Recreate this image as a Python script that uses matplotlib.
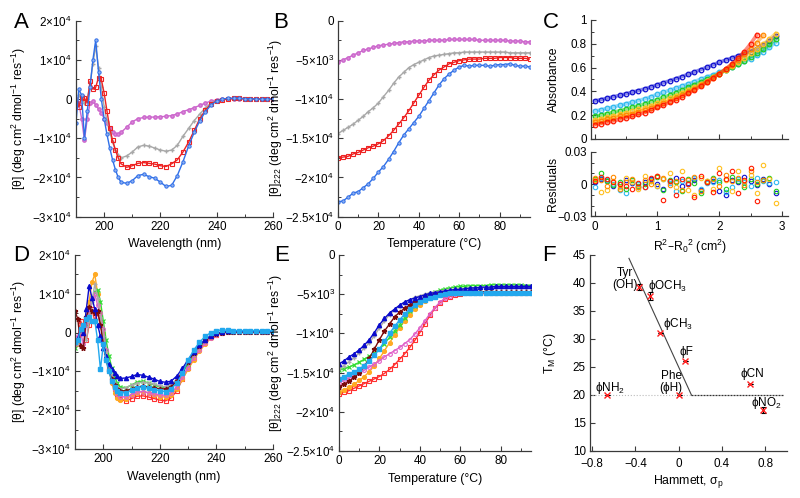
import matplotlib
matplotlib.use('Agg')
import matplotlib.pyplot as plt
import numpy as np
from matplotlib.ticker import MultipleLocator

plt.rcParams['font.family'] = ['Liberation Sans', 'DejaVu Sans']
plt.rcParams['mathtext.default'] = 'regular'
plt.rcParams['font.size'] = 8.8
plt.rcParams['axes.unicode_minus'] = True

# ---------------- DATA ----------------
wavelength = list(range(190, 206)) + list(range(206, 261, 2))   # nm

# Panel A (units of 1e4 deg cm2 dmol-1 res-1)
A_blue = [-0.6, 0.25, 0.1, -1.0, -0.3, 0.3, 1.0, 1.5, 0.7, 0.0, -0.5, -0.9, -1.25, -1.55, -1.8, -2.0,
          -2.12, -2.15, -2.08, -1.95, -1.92, -1.98, -2.02, -2.12, -2.23, -2.2, -1.95, -1.6, -1.2, -0.85,
          -0.55, -0.32, -0.15, -0.05, 0.0, 0.02, 0.02, 0.02, 0.01, 0.01, 0.0, 0.0, 0.0, 0.0]
A_red = [-0.1, -0.2, 0.05, 0.02, -0.1, 0.45, 0.25, 0.3, 0.55, 0.5, 0.15, -0.3, -0.75, -1.05, -1.3, -1.5,
         -1.65, -1.74, -1.70, -1.64, -1.62, -1.64, -1.66, -1.70, -1.72, -1.65, -1.55, -1.35, -1.10, -0.80,
         -0.50, -0.28, -0.12, -0.05, -0.02, 0.0, 0.02, 0.02, 0.01, 0.01, 0.0, 0.0, 0.0, 0.0]
A_gray = [-0.2, 0.1, 0.0, -0.1, 0.0, 0.4, 0.9, 1.35, 0.8, 0.3, -0.2, -0.55, -0.85, -1.1, -1.3, -1.42,
          -1.5, -1.45, -1.35, -1.22, -1.18, -1.2, -1.25, -1.3, -1.33, -1.3, -1.18, -0.95, -0.75, -0.55,
          -0.38, -0.22, -0.1, -0.04, 0.0, 0.01, 0.01, 0.01, 0.0, 0.0, 0.0, 0.0, 0.0, 0.0]
A_magenta = [0.0, -0.1, -0.5, -1.05, -0.5, -0.1, -0.05, -0.15, -0.25, -0.35, -0.5, -0.62, -0.75, -0.85, -0.9, -0.9,
             -0.85, -0.72, -0.58, -0.5, -0.47, -0.46, -0.46, -0.45, -0.44, -0.42, -0.38, -0.32, -0.27, -0.22,
             -0.16, -0.1, -0.05, -0.02, 0.0, 0.0, 0.0, 0.0, 0.0, 0.0, 0.0, 0.0, 0.0, 0.0]

temperature = [0, 2.5, 5, 7.5, 10, 12.5, 15, 17.5, 20, 22.5, 25, 27.5, 30, 32.5, 35, 37.5, 40, 42.5, 45, 47.5,
               50, 52.5, 55, 57.5, 60, 62.5, 65, 67.5, 70, 72.5, 75, 77.5, 80, 82.5, 85, 87.5, 90, 92.5, 95]

# Panel B (units of 1e3)
B_blue = [-23.1, -23.0, -22.5, -22.0, -21.8, -21.3, -20.8, -20.1, -19.3, -18.6, -17.7, -16.7, -15.6, -14.6,
          -13.8, -13.0, -12.2, -11.2, -10.2, -9.2, -8.2, -7.4, -6.8, -6.3, -5.9, -5.7, -5.8, -5.7, -5.7,
          -5.7, -5.8, -5.7, -5.6, -5.6, -5.5, -5.7, -5.8, -5.8, -5.9]
B_red = [-17.5, -17.4, -17.3, -17.0, -16.8, -16.5, -16.2, -16.0, -15.7, -15.3, -14.7, -14.0, -13.2, -12.4,
         -11.5, -10.5, -9.5, -8.5, -7.6, -6.9, -6.3, -5.9, -5.5, -5.3, -5.1, -5.0, -4.9, -4.9, -4.9,
         -4.8, -4.8, -4.8, -4.7, -4.7, -4.7, -4.8, -4.8, -4.8, -4.9]
B_gray = [-14.4, -14.0, -13.6, -13.2, -12.7, -12.2, -11.6, -11.1, -10.5, -9.7, -8.9, -8.0, -7.2, -6.6,
          -6.0, -5.6, -5.3, -5.0, -4.7, -4.5, -4.4, -4.3, -4.2, -4.1, -4.1, -4.0, -4.0, -4.0, -4.0,
          -4.0, -4.0, -4.0, -4.0, -4.0, -4.1, -4.1, -4.1, -4.1, -4.1]
B_magenta = [-5.3, -5.0, -4.7, -4.4, -4.1, -3.8, -3.6, -3.4, -3.2, -3.1, -3.0, -2.9, -2.8, -2.7, -2.7,
             -2.6, -2.6, -2.6, -2.5, -2.5, -2.5, -2.5, -2.4, -2.4, -2.4, -2.4, -2.4, -2.4, -2.5, -2.5,
             -2.5, -2.5, -2.5, -2.5, -2.6, -2.6, -2.6, -2.7, -2.7]

# Panel C (absorbance vs R^2 - R0^2)
C_x = [0.0, 0.1, 0.2, 0.3, 0.4, 0.5, 0.6, 0.7, 0.8, 0.9, 1.0, 1.1, 1.2, 1.3, 1.4, 1.5, 1.6, 1.7, 1.8, 1.9,
       2.0, 2.1, 2.2, 2.3, 2.4, 2.5, 2.6, 2.7, 2.8, 2.9]
C_blue = [0.320, 0.331, 0.343, 0.355, 0.367, 0.380, 0.393, 0.407, 0.421, 0.437, 0.455, 0.472, 0.489, 0.507,
          0.525, 0.544, 0.563, 0.583, 0.603, 0.624, 0.645, 0.663, 0.681, 0.699, 0.717, 0.735, 0.760, 0.790,
          0.825, 0.865]
C_cyan = [0.235, 0.246, 0.258, 0.270, 0.283, 0.296, 0.309, 0.323, 0.337, 0.355, 0.375, 0.392, 0.409, 0.427,
          0.445, 0.464, 0.483, 0.502, 0.521, 0.540, 0.560, 0.582, 0.605, 0.628, 0.652, 0.676, 0.702, 0.735,
          0.770, 0.810]
C_green = [0.190, 0.201, 0.213, 0.225, 0.238, 0.251, 0.265, 0.280, 0.295, 0.312, 0.330, 0.349, 0.369, 0.390,
           0.411, 0.433, 0.455, 0.478, 0.501, 0.525, 0.550, 0.576, 0.603, 0.630, 0.659, 0.690, 0.722, 0.757,
           0.795, 0.840]
C_yellow = [0.160, 0.171, 0.182, 0.194, 0.206, 0.219, 0.233, 0.248, 0.264, 0.281, 0.300, 0.320, 0.341, 0.363,
            0.386, 0.410, 0.435, 0.461, 0.488, 0.518, 0.550, 0.582, 0.615, 0.649, 0.684, 0.720, 0.757, 0.795,
            0.838, 0.885]
C_orange = [0.145, 0.155, 0.166, 0.177, 0.189, 0.201, 0.214, 0.228, 0.243, 0.261, 0.280, 0.300, 0.322, 0.345,
            0.370, 0.396, 0.423, 0.452, 0.483, 0.516, 0.550, 0.587, 0.625, 0.666, 0.710, 0.758, 0.810, 0.870]
C_red = [0.120, 0.130, 0.141, 0.152, 0.164, 0.177, 0.191, 0.206, 0.222, 0.242, 0.265, 0.285, 0.307, 0.331,
         0.356, 0.383, 0.412, 0.443, 0.476, 0.512, 0.550, 0.588, 0.630, 0.680, 0.735, 0.800, 0.875]

# residuals (units of 1e-3)
R_blue = [2, 5, 3, -2, 0, 4, 1, -3, 2, 5, 0, -4, 3, 6, -2, 1, 4, -5, 2, 3, -6, -10, 4, 2, 7, 3, -1, 5, 0, -8]
R_cyan = [-3, 6, 4, 0, -5, -8, 2, 0, -3, 4, -2, 5, 1, -6, 3, 0, 6, -4, 1, 2, 4, -7, -3, 5, 2, -2, 6, 3, 1, 2]
R_green = [5, 10, 3, -1, 2, -4, 4, -2, 0, 3, 7, -5, 4, 2, -6, 5, 1, -8, 3, 6, 2, -4, 7, 3, -3, 5, 0, 4, 6, -6]
R_yellow = [4, -7, -5, 3, -3, 6, 2, -4, 8, 3, -2, 5, 10, -3, 12, -5, -10, 6, 3, -4, 15, 4, -6, 12, 3, 9, -8,
            18, 5, -17]
R_orange = [6, 4, -2, 7, -4, 2, 5, -3, 4, 0, 8, 6, -1, 3, -5, 4, 7, -6, 2, 5, -2, 9, 3, 6, -1, 12, 2, 4]
R_red = [3, 7, 5, 2, 0, -2, -4, 1, -3, 6, 8, -15, 3, -10, 5, 0, -12, 8, 2, -7, 10, 5, 12, -8, 4, 15, -16]

# Panel D (units of 1e4)
D_red = [-0.3, -0.2, 0.3, 0.1, -0.2, 0.2, 0.6, 0.3, 0.5, 0.2, -0.1, -0.5, -0.9, -1.2, -1.45, -1.6,
         -1.72, -1.76, -1.7, -1.64, -1.63, -1.66, -1.7, -1.74, -1.76, -1.68, -1.5, -1.2, -0.9, -0.65,
         -0.42, -0.25, -0.12, -0.05, 0.0, 0.02, 0.02, 0.02, 0.02, 0.02, 0.02, 0.02, 0.02, 0.02]
D_orange = [-0.2, -0.3, 0.0, 0.2, 0.4, 0.8, 1.3, 1.5, 1.0, 0.5, 0.0, -0.5, -0.95, -1.3, -1.55, -1.68,
            -1.74, -1.72, -1.62, -1.55, -1.52, -1.55, -1.6, -1.65, -1.66, -1.6, -1.45, -1.2, -0.95, -0.7,
            -0.48, -0.3, -0.15, -0.06, 0.0, 0.02, 0.02, 0.02, 0.02, 0.02, 0.02, 0.02, 0.02, 0.02]
D_green = [-0.4, -0.2, 0.1, 0.0, 0.2, 0.5, 0.9, 1.05, 1.1, 0.8, 0.3, -0.2, -0.6, -0.9, -1.15, -1.3,
           -1.4, -1.42, -1.35, -1.27, -1.25, -1.3, -1.35, -1.4, -1.42, -1.38, -1.25, -1.05, -0.8, -0.58,
           -0.38, -0.22, -0.1, -0.03, 0.01, 0.02, 0.02, 0.02, 0.02, 0.02, 0.02, 0.02, 0.02, 0.02]
D_pink = [-0.3, -0.1, 0.0, -0.3, 0.2, 0.5, 0.9, 1.0, 0.7, 0.5, 0.1, -0.45, -0.9, -1.25, -1.45, -1.58,
          -1.65, -1.66, -1.6, -1.53, -1.52, -1.55, -1.58, -1.6, -1.62, -1.55, -1.4, -1.15, -0.9, -0.65,
          -0.45, -0.28, -0.14, -0.06, -0.01, 0.01, 0.01, 0.01, 0.01, 0.01, 0.01, 0.01, 0.01, 0.01]
D_gray = [-0.2, -0.3, 0.1, 0.0, -0.2, 0.3, 0.8, 1.25, 0.9, 0.4, -0.1, -0.5, -0.85, -1.1, -1.3, -1.4,
          -1.45, -1.42, -1.35, -1.3, -1.28, -1.3, -1.33, -1.37, -1.4, -1.35, -1.2, -1.0, -0.75, -0.55,
          -0.35, -0.2, -0.1, -0.03, 0.0, 0.01, 0.01, 0.01, 0.01, 0.01, 0.01, 0.01, 0.01, 0.01]
D_brown = [0.55, 0.35, -0.35, -0.4, 0.4, 0.65, 0.55, 0.5, 0.55, 0.2, -0.3, -0.7, -1.0, -1.2, -1.35, -1.45,
           -1.5, -1.5, -1.45, -1.4, -1.38, -1.4, -1.42, -1.45, -1.45, -1.4, -1.25, -1.0, -0.75, -0.52,
           -0.34, -0.2, -0.1, -0.04, 0.0, 0.01, 0.01, 0.01, 0.01, 0.01, 0.01, 0.01, 0.01, 0.01]
D_blue = [-0.2, -0.15, 0.1, 0.0, 0.6, 1.2, 0.9, 0.6, 0.2, -0.1, -0.4, -0.6, -0.8, -0.95, -1.05, -1.12,
          -1.18, -1.17, -1.13, -1.08, -1.1, -1.15, -1.2, -1.26, -1.28, -1.25, -1.12, -0.92, -0.7, -0.5,
          -0.32, -0.18, -0.08, -0.02, 0.02, 0.03, 0.03, 0.03, 0.03, 0.03, 0.03, 0.03, 0.03, 0.03]
D_cyan = [-0.25, -0.2, 0.1, 0.2, 0.35, 0.4, 0.3, 0.3, -0.2, -0.95, -0.3, -0.7, -1.0, -1.25, -1.4, -1.5,
          -1.55, -1.55, -1.48, -1.42, -1.4, -1.44, -1.47, -1.5, -1.52, -1.45, -1.3, -1.05, -0.7, -0.45,
          -0.25, -0.1, 0.0, 0.05, 0.07, 0.06, 0.05, 0.05, 0.05, 0.05, 0.05, 0.05, 0.05, 0.05]

# Panel E (units of 1e3)
E_blue = [-13.9, -13.5, -13.0, -12.6, -12.1, -11.5, -10.8, -9.9, -8.9, -8.1, -7.4, -6.9, -6.4, -6.0, -5.7,
          -5.5, -5.3, -5.1, -4.9, -4.8, -4.7, -4.6, -4.5, -4.4, -4.4, -4.3, -4.2, -4.2, -4.1, -4.1, -4.1,
          -4.0, -4.0, -4.0, -4.0, -4.0, -4.0, -4.0, -4.0]
E_gray = [-14.5, -14.1, -13.6, -13.1, -12.5, -11.9, -11.2, -10.3, -9.3, -8.4, -7.6, -7.0, -6.5, -6.0, -5.7,
          -5.4, -5.2, -5.0, -4.8, -4.7, -4.6, -4.5, -4.4, -4.4, -4.3, -4.3, -4.3, -4.2, -4.2, -4.2, -4.2,
          -4.2, -4.2, -4.2, -4.2, -4.2, -4.2, -4.2, -4.2]
E_green = [-14.7, -14.5, -14.3, -14.0, -13.7, -13.3, -12.9, -12.5, -12.0, -11.3, -10.5, -9.7, -8.9, -8.0,
           -7.2, -6.5, -5.9, -5.4, -5.0, -4.7, -4.5, -4.3, -4.2, -4.1, -4.0, -4.0, -3.9, -3.9, -3.9, -3.9,
           -3.8, -3.8, -3.8, -3.8, -3.8, -3.8, -3.8, -3.9, -3.9]
E_cyan = [-15.8, -15.5, -15.2, -14.9, -14.6, -14.1, -13.5, -12.8, -12.0, -11.0, -10.0, -9.1, -8.3, -7.5,
          -6.9, -6.4, -6.0, -5.7, -5.5, -5.3, -5.1, -5.0, -4.9, -4.9, -4.8, -4.8, -4.8, -4.8, -4.8, -4.8,
          -4.8, -4.8, -4.8, -4.8, -4.8, -4.9, -4.9, -4.9, -4.9]
E_brown = [-16.8, -16.5, -16.1, -15.6, -15.0, -14.2, -13.2, -12.0, -10.8, -9.7, -8.8, -7.9, -7.3, -6.8,
           -6.4, -6.0, -5.7, -5.4, -5.2, -5.0, -4.9, -4.8, -4.8, -4.7, -4.7, -4.7, -4.7, -4.7, -4.7, -4.7,
           -4.7, -4.7, -4.7, -4.7, -4.7, -4.7, -4.7, -4.7, -4.7]
E_orange = [-17.5, -17.2, -16.9, -16.5, -16.0, -15.5, -14.9, -14.1, -13.2, -12.2, -11.2, -10.2, -9.3, -8.4,
            -7.6, -6.9, -6.4, -5.9, -5.5, -5.2, -5.0, -4.9, -4.8, -4.8, -4.7, -4.7, -4.7, -4.7, -4.7, -4.7,
            -4.7, -4.8, -4.8, -4.8, -4.8, -4.8, -4.8, -4.8, -4.8]
E_pink = [-16.3, -16.0, -15.7, -15.4, -15.1, -14.7, -14.3, -13.9, -13.5, -13.0, -12.6, -12.2, -11.8, -11.3,
          -10.8, -10.1, -9.3, -8.4, -7.5, -6.7, -6.0, -5.5, -5.2, -5.0, -4.9, -4.8, -4.8, -4.8, -4.8, -4.8,
          -4.8, -4.8, -4.8, -4.8, -4.8, -4.8, -4.8, -4.8, -4.8]
E_red = [-17.7, -17.5, -17.3, -17.0, -16.7, -16.4, -16.1, -15.8, -15.5, -15.1, -14.6, -14.0, -13.3, -12.6,
         -11.8, -10.9, -9.9, -8.8, -7.7, -6.8, -6.1, -5.6, -5.3, -5.1, -5.0, -4.9, -4.9, -4.9, -4.9, -4.9,
         -4.9, -4.9, -4.9, -4.9, -4.9, -4.9, -4.9, -4.9, -4.9]

# Panel F
F_labels = ['Tyr\n(OH)', 'ϕOCH$_3$', 'ϕCH$_3$', 'ϕF', 'Phe\n(ϕH)', 'ϕNH$_2$', 'ϕCN', 'ϕNO$_2$']
F_sigma = [-0.37, -0.27, -0.17, 0.06, 0.0, -0.66, 0.66, 0.78]
F_tm = [39.3, 37.7, 31.0, 26.0, 20.0, 20.0, 22.0, 17.3]
F_err = [0.6, 0.7, 0.0, 0.0, 0.0, 0.0, 0.0, 0.6]
F_fit_sigma = [-0.46, 0.117, 0.96]
F_fit_tm = [44.4, 20.0, 20.0]
F_base_sigma = [-0.8, 0.117]
F_label_pos = [(-0.50, 40.7), (-0.28, 39.5), (-0.15, 32.6), (0.01, 27.6), (-0.07, 22.3),
               (-0.77, 21.3), (0.575, 23.7), (0.67, 18.6)]
F_label_ha = ['center', 'left', 'left', 'left', 'center', 'left', 'left', 'left']

# ---------------- STYLE ----------------
SPINE = '#3a3a3a'
FS = 8.8
TFS = 8.4


def style(ax):
    ax.spines['top'].set_visible(False)
    ax.spines['right'].set_visible(False)
    for s in ('left', 'bottom'):
        ax.spines[s].set_linewidth(0.9)
        ax.spines[s].set_color(SPINE)
    ax.tick_params(which='major', direction='in', length=3.5, width=0.8, color=SPINE, labelsize=TFS, pad=3)
    ax.tick_params(which='minor', direction='in', length=2, width=0.7, color=SPINE)
    ax.set_facecolor('none')


fig = plt.figure(figsize=(8.0, 4.98), dpi=100)

ylab_cd = '[θ] (deg cm$^2$ dmol$^{-1}$ res$^{-1}$)'
ylab_222 = '[θ]$_{222}$ (deg cm$^2$ dmol$^{-1}$ res$^{-1}$)'
cd_ticks = [2e4, 1e4, 0, -1e4, -2e4, -3e4]
cd_labels = ['2×10$^4$', '1×10$^4$', '0', '−1×10$^4$', '−2×10$^4$', '−3×10$^4$']
t_ticks = [0, -5e3, -1e4, -1.5e4, -2e4, -2.5e4]
t_labels = ['0', '−5×10$^3$', '−1×10$^4$', '−1.5×10$^4$', '−2×10$^4$', '−2.5×10$^4$']

wl = np.array(wavelength)
T = np.array(temperature)
MS = 2.4

# ---- A ----
axA = fig.add_axes([0.095, 0.5649, 0.24625, 0.3936])
style(axA)
axA.plot(wl, np.array(A_magenta) * 1e4, '-o', color='#cc66cc', ms=MS, lw=1, mfc='#d88ad8')
axA.plot(wl, np.array(A_gray) * 1e4, '-+', color='#a8a8a8', ms=3.2, lw=1)
axA.plot(wl, np.array(A_red) * 1e4, '-s', color='#ee2222', ms=MS + 0.6, lw=1, mfc='none', mew=0.8)
axA.plot(wl, np.array(A_blue) * 1e4, '-o', color='#2f6fe8', ms=MS, lw=1, mfc='#8fb0f0', mew=0.7)
axA.set_xlim(190, 260)
axA.set_ylim(-3e4, 2e4)
axA.set_xticks([200, 220, 240, 260])
axA.xaxis.set_minor_locator(MultipleLocator(10))
axA.set_yticks(cd_ticks, cd_labels)
axA.yaxis.set_minor_locator(MultipleLocator(5e3))
axA.set_xlabel('Wavelength (nm)', fontsize=FS)
axA.set_ylabel(ylab_cd, fontsize=FS)
axA.yaxis.set_label_coords(-0.244, 0.5)

# ---- B ----
axB = fig.add_axes([0.4225, 0.5649, 0.24, 0.3936])
style(axB)
axB.plot(T, np.array(B_magenta) * 1e3, '-o', color='#cc66cc', ms=MS, lw=1, mfc='#d88ad8')
axB.plot(T, np.array(B_gray) * 1e3, '-+', color='#a8a8a8', ms=3.2, lw=1)
axB.plot(T, np.array(B_red) * 1e3, '-s', color='#ee2222', ms=MS + 0.6, lw=1, mfc='none', mew=0.8)
axB.plot(T, np.array(B_blue) * 1e3, '-o', color='#2f6fe8', ms=MS, lw=1, mfc='#8fb0f0', mew=0.7)
axB.set_xlim(0, 95)
axB.set_ylim(-2.5e4, 0)
axB.set_xticks([0, 20, 40, 60, 80])
axB.xaxis.set_minor_locator(MultipleLocator(10))
axB.set_yticks(t_ticks, t_labels)
axB.yaxis.set_minor_locator(MultipleLocator(2.5e3))
axB.set_xlabel('Temperature (°C)', fontsize=FS)
axB.set_ylabel(ylab_222, fontsize=FS)
axB.yaxis.set_label_coords(-0.278, 0.5)

# ---- C ----
c_series = [(C_blue, R_blue, '#1010d0'), (C_cyan, R_cyan, '#30b8f0'), (C_green, R_green, '#22cc22'),
            (C_yellow, R_yellow, '#ffc020'), (C_orange, R_orange, '#ff8a00'), (C_red, R_red, '#ff1a00')]
axC = fig.add_axes([0.73875, 0.7209, 0.24625, 0.2390])
style(axC)
axR = fig.add_axes([0.73875, 0.5653, 0.24625, 0.1295])
style(axR)
for yv, rv, col in c_series:
    n = len(yv)
    xv = np.array(C_x[:n])
    axC.plot(xv, yv, '-', color=col, lw=2.6, alpha=0.5)
    axC.plot(xv, yv, 'o', color=col, ms=3.3, mfc='none', mew=0.9)
    axR.plot(np.array(C_x[:len(rv)]), np.array(rv) * 1e-3, 'o', color=col, ms=3.2, mfc='none', mew=0.8)
axC.set_xlim(-0.06, 3.1)
axC.set_ylim(0, 1)
axC.set_xticks([0, 1, 2, 3])
axC.set_xticklabels([])
axC.xaxis.set_minor_locator(MultipleLocator(0.5))
axC.set_yticks([0, 0.2, 0.4, 0.6, 0.8, 1], ['0', '0.2', '0.4', '0.6', '0.8', '1'])
axC.yaxis.set_minor_locator(MultipleLocator(0.1))
axC.set_ylabel('Absorbance', fontsize=FS)
axR.set_xlim(-0.06, 3.1)
axR.set_ylim(-0.03, 0.03)
axR.set_xticks([0, 1, 2, 3])
axR.xaxis.set_minor_locator(MultipleLocator(0.5))
axR.set_yticks([-0.03, 0, 0.03], ['−0.03', '0', '0.03'])
axR.yaxis.set_minor_locator(MultipleLocator(0.01))
axR.set_ylabel('Residuals', fontsize=FS)
axR.set_xlabel('R$^2$–R$_0$$^2$ (cm$^2$)', fontsize=FS)
axC.yaxis.set_label_coords(-0.16, 0.5)
axR.yaxis.set_label_coords(-0.16, 0.5)

# ---- D and E ----
d_style = [
    ('red', '#ff3030', 's', dict(mfc='none', ms=MS + 0.6, mew=0.8)),
    ('orange', '#ffaa22', 'o', dict(ms=MS + 0.3)),
    ('green', '#33dd33', 'x', dict(ms=MS + 0.4, mew=0.9)),
    ('pink', '#e060c8', 'o', dict(mfc='none', ms=MS + 0.3, mew=0.8)),
    ('gray', '#aaaaaa', '+', dict(ms=3.2)),
    ('brown', '#7a0a0a', '*', dict(ms=MS + 1.2)),
    ('blue', '#0a0acc', '^', dict(ms=MS + 0.6)),
    ('cyan', '#22a8ee', 's', dict(ms=MS + 0.6)),
]
D_data = {'red': D_red, 'orange': D_orange, 'green': D_green, 'pink': D_pink, 'gray': D_gray,
          'brown': D_brown, 'blue': D_blue, 'cyan': D_cyan}
E_data = {'red': E_red, 'orange': E_orange, 'green': E_green, 'pink': E_pink, 'gray': E_gray,
          'brown': E_brown, 'blue': E_blue, 'cyan': E_cyan}

axD = fig.add_axes([0.09375, 0.0984, 0.2475, 0.3896])
style(axD)
axE = fig.add_axes([0.42375, 0.0944, 0.24, 0.3936])
style(axE)
for name, col, mk, kw in d_style:
    axD.plot(wl, np.array(D_data[name]) * 1e4, '-', marker=mk, color=col, lw=1, **kw)
    axE.plot(T, np.array(E_data[name]) * 1e3, '-', marker=mk, color=col, lw=1, **kw)
axD.set_xlim(190, 260)
axD.set_ylim(-3e4, 2e4)
axD.set_xticks([200, 220, 240, 260])
axD.xaxis.set_minor_locator(MultipleLocator(10))
axD.set_yticks(cd_ticks, cd_labels)
axD.yaxis.set_minor_locator(MultipleLocator(5e3))
axD.set_xlabel('Wavelength (nm)', fontsize=FS)
axD.set_ylabel(ylab_cd, fontsize=FS)
axD.yaxis.set_label_coords(-0.237, 0.5)

axE.set_xlim(0, 95)
axE.set_ylim(-2.5e4, 0)
axE.set_xticks([0, 20, 40, 60, 80])
axE.xaxis.set_minor_locator(MultipleLocator(10))
axE.set_yticks(t_ticks, t_labels)
axE.yaxis.set_minor_locator(MultipleLocator(2.5e3))
axE.set_xlabel('Temperature (°C)', fontsize=FS)
axE.set_ylabel(ylab_222, fontsize=FS)
axE.yaxis.set_label_coords(-0.28, 0.5)

# ---- F ----
axF = fig.add_axes([0.7375, 0.0944, 0.24625, 0.3936])
style(axF)
axF.tick_params(axis='x', which='major', pad=5)
axF.plot(F_base_sigma, [20, 20], ':', color='#bbbbbb', lw=0.8)
axF.plot(F_fit_sigma[:2], F_fit_tm[:2], '-', color='#444444', lw=0.8)
axF.plot(F_fit_sigma[1:], F_fit_tm[1:], '--', color='#333333', lw=0.9, dashes=(1.6, 0.8))
axF.errorbar(F_sigma, F_tm, yerr=F_err, fmt='none', ecolor='black', elinewidth=0.8, capsize=1.8, capthick=0.8)
axF.plot(F_sigma, F_tm, 'x', color='#ff2020', ms=4.5, mew=1.0)
for lab, (px, py), ha in zip(F_labels, F_label_pos, F_label_ha):
    axF.text(px, py, lab, ha=ha, va='center', fontsize=FS - 0.3, linespacing=1.0,
             family=['Liberation Sans', 'DejaVu Sans'])
axF.set_xlim(-0.82, 1.0)
axF.set_ylim(10, 45)
axF.set_xticks([-0.8, -0.4, 0, 0.4, 0.8], ['−0.8', '−0.4', '0', '0.4', '0.8'])
axF.set_yticks([10, 15, 20, 25, 30, 35, 40, 45])
axF.set_xlabel('Hammett, σ$_p$', fontsize=FS, labelpad=2)
axF.set_ylabel('T$_M$ (°C)', fontsize=FS)
axF.yaxis.set_label_coords(-0.16, 0.5)

# panel letters
for lab, (px, py) in zip('ABCDEF', [(21, 22), (281, 22), (551, 22), (21, 255), (282, 255), (549, 255)]):
    fig.text(px / 800, 1 - py / 498, lab, fontsize=16, ha='center', va='center')

fig.savefig('out.png', dpi=100)
